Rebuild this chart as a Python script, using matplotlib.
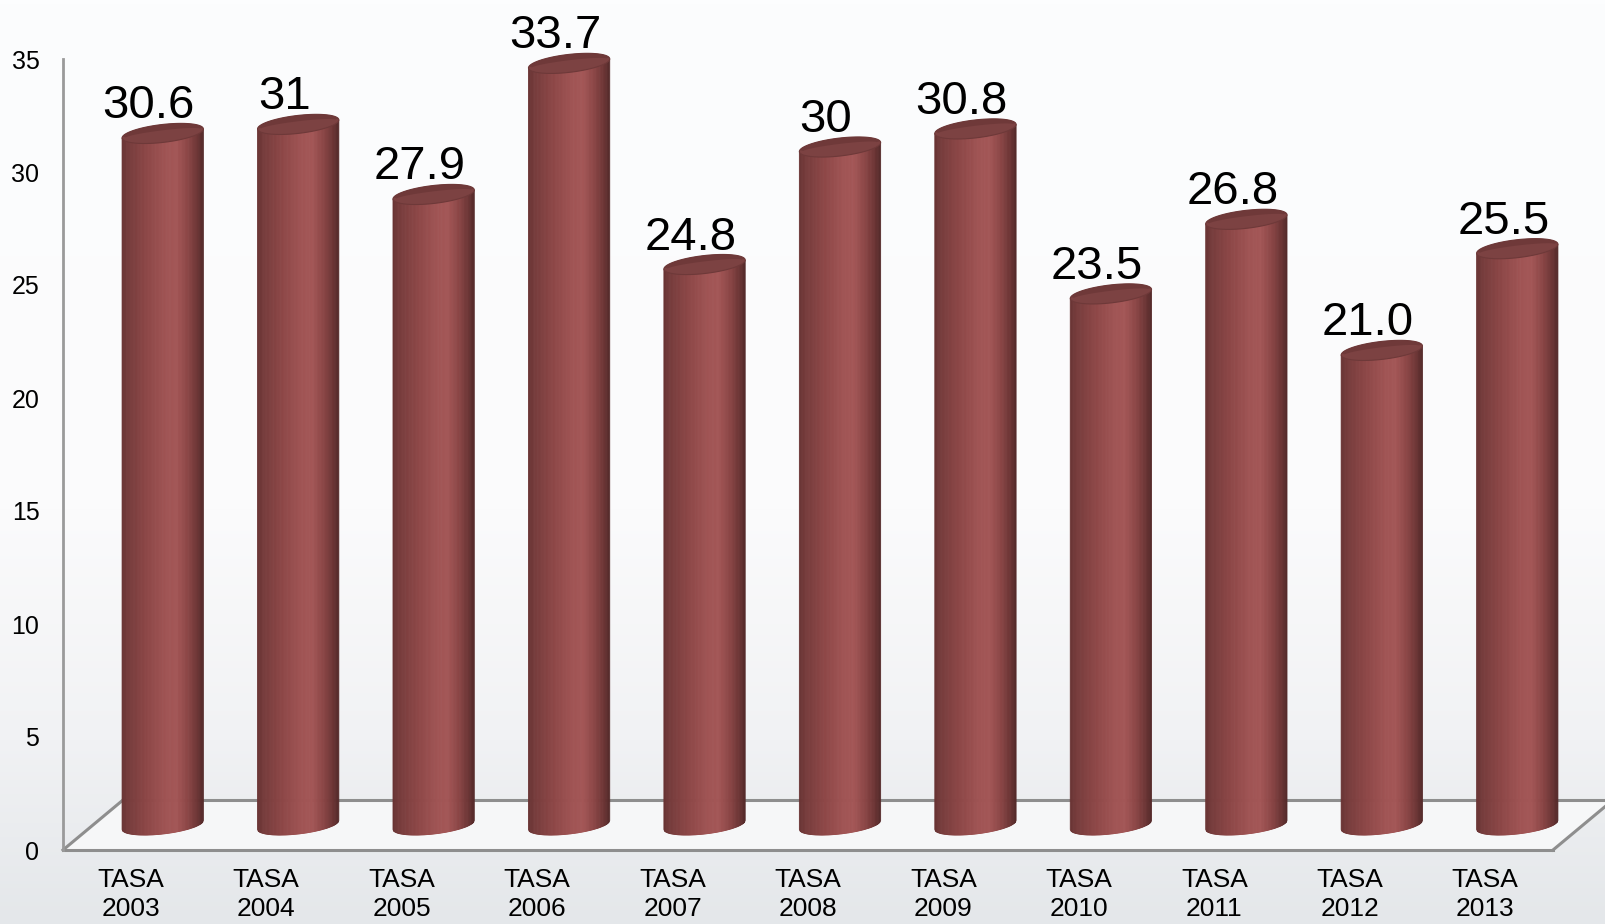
import numpy as np
import matplotlib
matplotlib.use("Agg")
import matplotlib.pyplot as plt
from matplotlib.collections import PolyCollection
from matplotlib.patches import Polygon
from matplotlib.lines import Line2D
import matplotlib.transforms as mtrans
from matplotlib.colors import LinearSegmentedColormap

# ---------------- data ----------------
categories = ["TASA\n2003", "TASA\n2004", "TASA\n2005", "TASA\n2006", "TASA\n2007",
              "TASA\n2008", "TASA\n2009", "TASA\n2010", "TASA\n2011", "TASA\n2012",
              "TASA\n2013"]
values = [30.6, 31, 27.9, 33.7, 24.8, 30, 30.8, 23.5, 26.8, 21.0, 25.5]
value_labels = ["30.6", "31", "27.9", "33.7", "24.8", "30", "30.8", "23.5", "26.8", "21.0", "25.5"]
yticks = [0, 5, 10, 15, 20, 25, 30, 35]

# ---------------- figure ----------------
W, H = 1605, 924
DPI = 100
plt.rcParams['font.family'] = ['Liberation Sans', 'DejaVu Sans']
fig = plt.figure(figsize=(W / DPI, H / DPI), dpi=DPI)

# background gradient
bg = fig.add_axes([0, 0, 1, 1], zorder=-10)
bg.axis('off')
grad = np.linspace(0, 1, 256).reshape(-1, 1)
bg_cmap = LinearSegmentedColormap.from_list(
    'bg', [(0.0, '#fcfdfe'), (0.55, '#fbfbfc'), (0.8, '#f1f2f4'), (1.0, '#e4e7ea')])
bg.imshow(grad, aspect='auto', cmap=bg_cmap, extent=[0, 1, 0, 1], origin='upper')
bg.set_xlim(0, 1); bg.set_ylim(0, 1)

# main axes = front plane of the 3D chart
ax = fig.add_axes([63 / W, (H - 850) / H, (1553 - 63) / W, 791 / H])
ax.set_xlim(-0.5, len(values) - 0.5)
ax.set_ylim(0, 35)
ax.set_autoscale_on(False)
ax.patch.set_alpha(0)
for s in ['top', 'right', 'bottom']:
    ax.spines[s].set_visible(False)
ax.spines['left'].set_color('#9a9a9a')
ax.spines['left'].set_linewidth(2.0)
ax.set_yticks(yticks)
ax.set_yticklabels([str(t) for t in yticks], fontsize=18)
ax.tick_params(axis='y', length=0, pad=17)
ax.set_xticks(range(len(categories)))
ax.set_xticklabels(categories, fontsize=19, linespacing=1.28)
ax.tick_params(axis='x', length=0, pad=13)

ident = mtrans.IdentityTransform()
DX, DY = 60, 50          # floor depth in pixels
td = ax.transData

# floor
x0, y0 = td.transform((-0.5, 0))
x1, _ = td.transform((len(values) - 0.5, 0))
floor = Polygon([(x0, y0), (x1, y0), (x1 + DX, y0 + DY), (x0 + DX, y0 + DY)],
                closed=True, transform=ident, facecolor='#f6f7f8', edgecolor='none',
                zorder=1, clip_on=False)
ax.add_artist(floor)
line_kw = dict(color='#8e8e8e', linewidth=2.2, transform=ident, zorder=2, clip_on=False)
ax.add_artist(Line2D([x0, x1], [y0, y0], **line_kw))
ax.add_artist(Line2D([x0 + DX, x1 + DX], [y0 + DY, y0 + DY], **line_kw))
ax.add_artist(Line2D([x0, x0 + DX], [y0, y0 + DY], **line_kw))
ax.add_artist(Line2D([x1, x1 + DX], [y0, y0 + DY], **line_kw))

# cylinder shading
body_cmap = LinearSegmentedColormap.from_list(
    'body', [(0.0, '#683333'), (0.08, '#763c3c'), (0.3, '#8c4646'),
             (0.55, '#a05454'), (0.68, '#a35656'), (0.82, '#8a4545'),
             (0.94, '#6a3434'), (1.0, '#552a2a')])

bar_w_px = td.transform((0.6, 0))[0] - td.transform((0, 0))[0]
a = bar_w_px / 2.0     # half width
b = 9.0                # ellipse half height (pixels)
s = 4.5                # tilt
N = 70
us = np.linspace(-1, 1, N + 1)

for i, v in enumerate(values):
    cx, yb = td.transform((i, 0))
    _, yt = td.transform((i, v))
    cx += DX / 2 + 2
    yb += DY / 2
    yt += DY / 2
    polys, cols = [], []
    for k in range(N):
        u0, u1 = us[k], us[k + 1]
        uu = np.linspace(u0, u1, 3)
        xs = cx + a * uu
        bot = yb + s * uu - b * np.sqrt(np.clip(1 - uu ** 2, 0, 1))
        top = yt + s * uu
        verts = list(zip(xs, bot)) + list(zip(xs[::-1], top[::-1]))
        polys.append(verts)
        cols.append(body_cmap((0.5 * (u0 + u1) + 1) / 2))
    pc = PolyCollection(polys, facecolors=cols, edgecolors=cols, linewidths=0.6,
                        transform=ident, zorder=3, clip_on=False)
    ax.add_collection(pc)
    # top face
    t = np.linspace(0, 2 * np.pi, 120)
    ex = cx + a * np.cos(t)
    ey = yt + s * np.cos(t) + b * np.sin(t)
    ax.add_artist(Polygon(np.column_stack([ex, ey]), closed=True, transform=ident,
                          facecolor='#7c4242', edgecolor='#6e3939', linewidth=0.8,
                          zorder=4, clip_on=False))
    # darker back crescent on top face
    tt = np.linspace(0.05 * np.pi, 0.95 * np.pi, 60)
    back = np.column_stack([cx + a * np.cos(tt), yt + s * np.cos(tt) + b * np.sin(tt)])
    inner = np.column_stack([cx + 0.92 * a * np.cos(tt[::-1]),
                             yt + s * np.cos(tt[::-1]) + 0.35 * b * np.sin(tt[::-1])])
    ax.add_artist(Polygon(np.vstack([back, inner]), closed=True, transform=ident,
                          facecolor='#6c3737', edgecolor='none', alpha=0.8,
                          zorder=5, clip_on=False))
    # value label
    ax.annotate(value_labels[i], xy=(i, v), xytext=(18, 40), textcoords='offset pixels',
                ha='center', va='baseline', fontsize=34, color='black',
                zorder=6, annotation_clip=False)

fig.savefig('out.png', dpi=DPI)
